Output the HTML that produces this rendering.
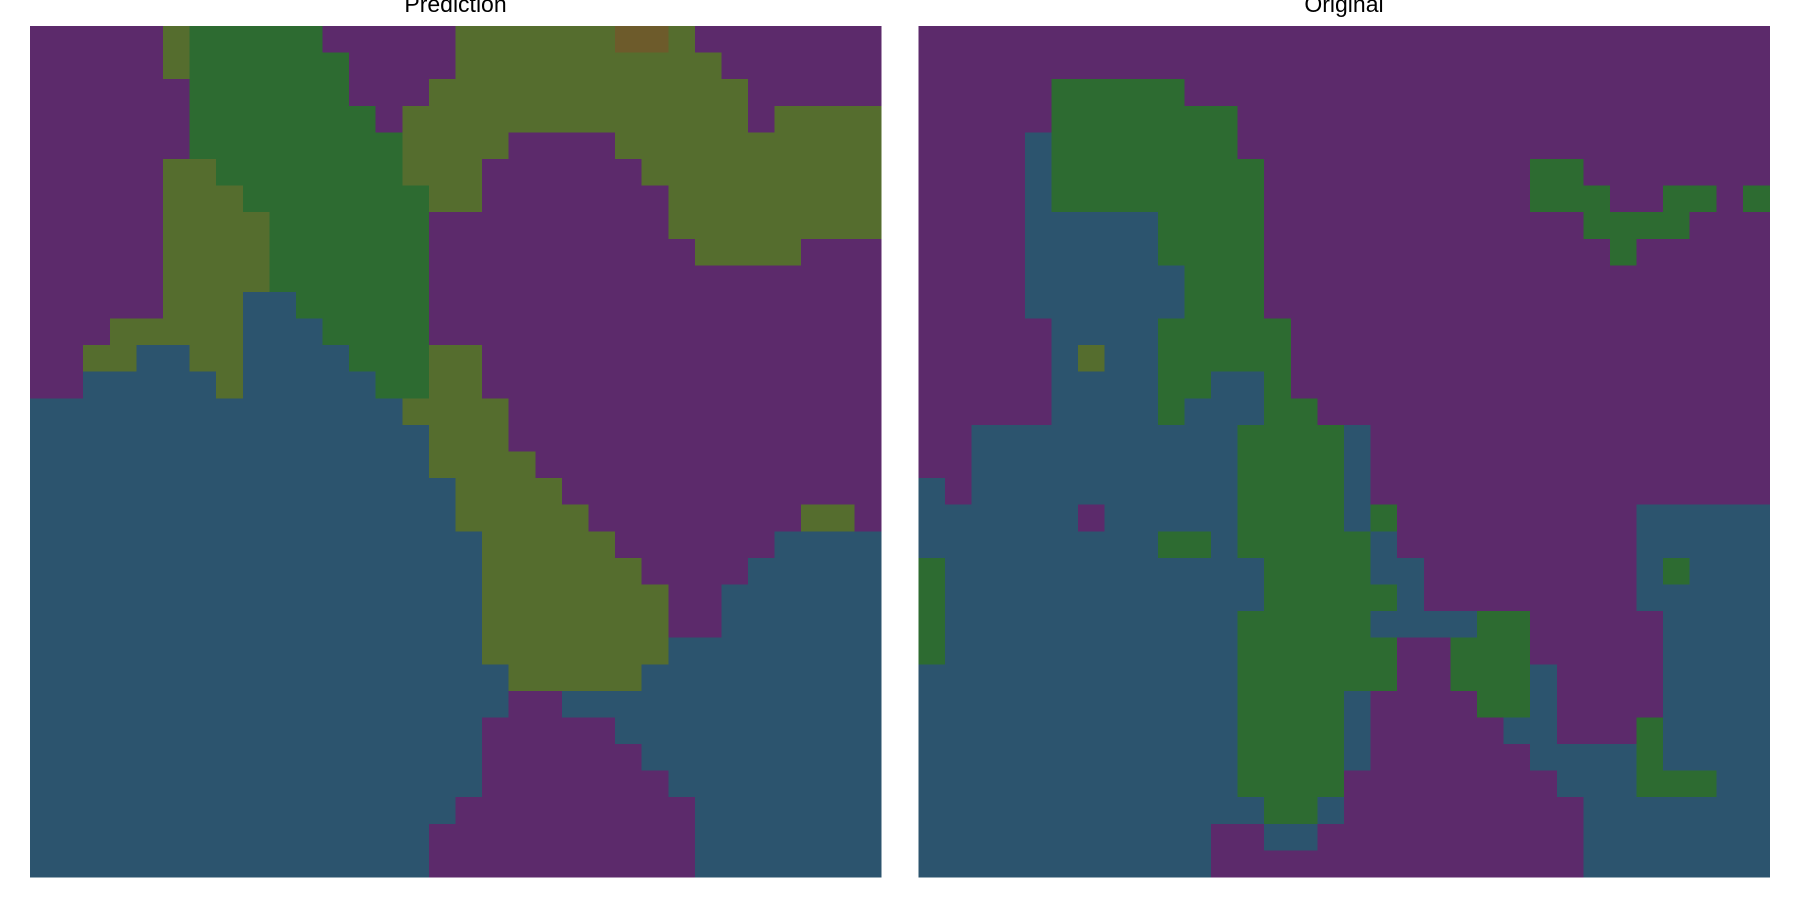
<!DOCTYPE html>
<html>
<head>
<meta charset="utf-8">
<style>
  html, body { margin: 0; padding: 0; background: #ffffff; }
  body { width: 1800px; height: 900px; overflow: hidden; font-family: "Liberation Sans", "DejaVu Sans", sans-serif; }
  svg { display: block; }
</style>
</head>
<body>
<svg id="chart" width="1800" height="900" viewBox="0 0 1800 900" xmlns="http://www.w3.org/2000/svg" shape-rendering="crispEdges">
  <text x="455.5" y="12" text-anchor="middle" font-size="23" fill="#000">Prediction</text>
  <text x="1344" y="12" text-anchor="middle" font-size="23" fill="#000">Original</text>
  <g id="left-panel"></g>
  <g id="right-panel"></g>
</svg>
<script>
// Class labels per cell: P purple, G green, O olive, B blue, R brown
const classKeys = ["P", "G", "O", "B", "R"];
const classColors = ["#5c2a6b", "#2d6b31", "#556d2e", "#2c546e", "#6d5b2b"];

const predictionRows = [
  "PPPPPOGGGGGPPPPPOOOOOORROPPPPPPP",
  "PPPPPOGGGGGGPPPPOOOOOOOOOOPPPPPP",
  "PPPPPPGGGGGGPPPOOOOOOOOOOOOPPPPP",
  "PPPPPPGGGGGGGPOOOOOOOOOOOOOPOOOO",
  "PPPPPPGGGGGGGGOOOOPPPPOOOOOOOOOO",
  "PPPPPOOGGGGGGGOOOPPPPPPOOOOOOOOO",
  "PPPPPOOOGGGGGGGOOPPPPPPPOOOOOOOO",
  "PPPPPOOOOGGGGGGPPPPPPPPPOOOOOOOO",
  "PPPPPOOOOGGGGGGPPPPPPPPPPOOOOPPP",
  "PPPPPOOOOGGGGGGPPPPPPPPPPPPPPPPP",
  "PPPPPOOOBBGGGGGPPPPPPPPPPPPPPPPP",
  "PPPOOOOOBBBGGGGPPPPPPPPPPPPPPPPP",
  "PPOOBBOOBBBBGGGOOPPPPPPPPPPPPPPP",
  "PPBBBBBOBBBBBGGOOPPPPPPPPPPPPPPP",
  "BBBBBBBBBBBBBBOOOOPPPPPPPPPPPPPP",
  "BBBBBBBBBBBBBBBOOOPPPPPPPPPPPPPP",
  "BBBBBBBBBBBBBBBOOOOPPPPPPPPPPPPP",
  "BBBBBBBBBBBBBBBBOOOOPPPPPPPPPPPP",
  "BBBBBBBBBBBBBBBBOOOOOPPPPPPPPOOP",
  "BBBBBBBBBBBBBBBBBOOOOOPPPPPPBBBB",
  "BBBBBBBBBBBBBBBBBOOOOOOPPPPBBBBB",
  "BBBBBBBBBBBBBBBBBOOOOOOOPPBBBBBB",
  "BBBBBBBBBBBBBBBBBOOOOOOOPPBBBBBB",
  "BBBBBBBBBBBBBBBBBOOOOOOOBBBBBBBB",
  "BBBBBBBBBBBBBBBBBBOOOOOBBBBBBBBB",
  "BBBBBBBBBBBBBBBBBBPPBBBBBBBBBBBB",
  "BBBBBBBBBBBBBBBBBPPPPPBBBBBBBBBB",
  "BBBBBBBBBBBBBBBBBPPPPPPBBBBBBBBB",
  "BBBBBBBBBBBBBBBBBPPPPPPPBBBBBBBB",
  "BBBBBBBBBBBBBBBBPPPPPPPPPBBBBBBB",
  "BBBBBBBBBBBBBBBPPPPPPPPPPBBBBBBB",
  "BBBBBBBBBBBBBBBPPPPPPPPPPBBBBBBB"
];

const originalRows = [
  "PPPPPPPPPPPPPPPPPPPPPPPPPPPPPPPP",
  "PPPPPPPPPPPPPPPPPPPPPPPPPPPPPPPP",
  "PPPPPGGGGGPPPPPPPPPPPPPPPPPPPPPP",
  "PPPPPGGGGGGGPPPPPPPPPPPPPPPPPPPP",
  "PPPPBGGGGGGGPPPPPPPPPPPPPPPPPPPP",
  "PPPPBGGGGGGGGPPPPPPPPPPGGPPPPPPP",
  "PPPPBGGGGGGGGPPPPPPPPPPGGGPPGGPG",
  "PPPPBBBBBGGGGPPPPPPPPPPPPGGGGPPP",
  "PPPPBBBBBGGGGPPPPPPPPPPPPPGPPPPP",
  "PPPPBBBBBBGGGPPPPPPPPPPPPPPPPPPP",
  "PPPPBBBBBBGGGPPPPPPPPPPPPPPPPPPP",
  "PPPPPBBBBGGGGGPPPPPPPPPPPPPPPPPP",
  "PPPPPBOBBGGGGGPPPPPPPPPPPPPPPPPP",
  "PPPPPBBBBGGBBGPPPPPPPPPPPPPPPPPP",
  "PPPPPBBBBGBBBGGPPPPPPPPPPPPPPPPP",
  "PPBBBBBBBBBBGGGGBPPPPPPPPPPPPPPP",
  "PPBBBBBBBBBBGGGGBPPPPPPPPPPPPPPP",
  "BPBBBBBBBBBBGGGGBPPPPPPPPPPPPPPP",
  "BBBBBBPBBBBBGGGGBGPPPPPPPPPBBBBB",
  "BBBBBBBBBGGBGGGGGBPPPPPPPPPBBBBB",
  "GBBBBBBBBBBBBGGGGBBPPPPPPPPBGBBB",
  "GBBBBBBBBBBBBGGGGGBPPPPPPPPBBBBB",
  "GBBBBBBBBBBBGGGGGBBBBGGPPPPPBBBB",
  "GBBBBBBBBBBBGGGGGGPPGGGPPPPPBBBB",
  "BBBBBBBBBBBBGGGGGGPPGGGBPPPPBBBB",
  "BBBBBBBBBBBBGGGGBPPPPGGBPPPPBBBB",
  "BBBBBBBBBBBBGGGGBPPPPPBBPPPGBBBB",
  "BBBBBBBBBBBBGGGGBPPPPPPBBBBGBBBB",
  "BBBBBBBBBBBBGGGGPPPPPPPPBBBGGGBB",
  "BBBBBBBBBBBBBGGBPPPPPPPPPBBBBBBB",
  "BBBBBBBBBBBPPBBPPPPPPPPPPBBBBBBB",
  "BBBBBBBBBBBPPPPPPPPPPPPPPBBBBBBB"
];

const NS = "http://www.w3.org/2000/svg";
function drawHeatmap(groupId, rows, x0, y0, size, prefix) {
  const g = document.getElementById(groupId);
  const nRows = rows.length;
  const nCols = rows[0].length;
  const xScale = c => x0 + (c / nCols) * size;
  const yScale = r => y0 + (r / nRows) * size;
  for (let r = 0; r < nRows; r++) {
    for (let c = 0; c < nCols; c++) {
      const k = classKeys.indexOf(rows[r][c]);
      const rect = document.createElementNS(NS, "rect");
      const x = xScale(c), y = yScale(r);
      rect.setAttribute("x", x.toFixed(2));
      rect.setAttribute("y", y.toFixed(2));
      rect.setAttribute("width", (xScale(c + 1) - x + 0.6).toFixed(2));
      rect.setAttribute("height", (yScale(r + 1) - y + 0.6).toFixed(2));
      rect.setAttribute("fill", classColors[k < 0 ? 0 : k]);
      
      
      g.appendChild(rect);
    }
  }
}
drawHeatmap("left-panel", predictionRows, 30, 26, 851, "prediction");
drawHeatmap("right-panel", originalRows, 918.5, 26, 851, "original");
</script>
</body>
</html>
